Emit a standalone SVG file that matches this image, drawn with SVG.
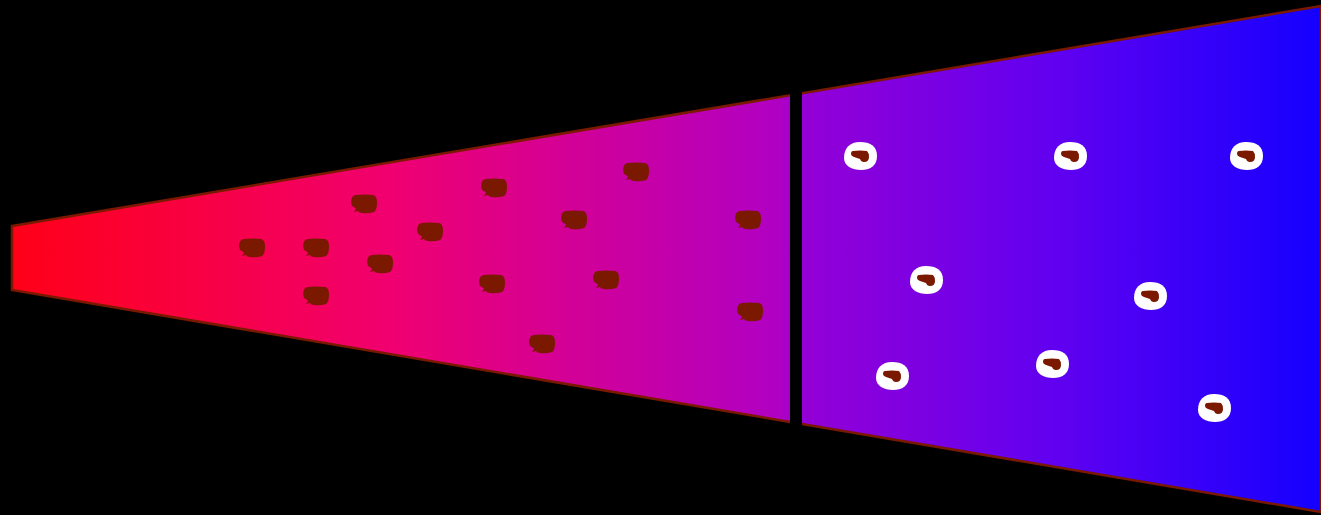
<svg xmlns="http://www.w3.org/2000/svg" width="1321" height="515" viewBox="0 0 1321 515">
<defs>
<linearGradient id="g" gradientUnits="userSpaceOnUse" x1="12" y1="0" x2="1321" y2="0">
<stop offset="0" stop-color="#ff0018"/>
<stop offset="0.29" stop-color="#f00070"/>
<stop offset="0.587" stop-color="#b000c4"/>
<stop offset="0.604" stop-color="#9400d6"/>
<stop offset="0.8" stop-color="#6000f0"/>
<stop offset="1" stop-color="#1400ff"/>
</linearGradient>
<path id="blob" d="M -8,-9 Q 0,-10 9,-9 Q 13,-8 13,-2 Q 13,6 10,8 Q 4,10 -2,9 Q -5,9 -6,7 L -10,8 Q -8,6 -8,4 Q -13,3 -13,-3 Q -12,-9 -8,-9 Z"/>
<path id="ring" d="M 0,-14 C 10,-14 17,-10 17,0 C 17,10 10,14 1,14 C -8,14 -16,10 -16,2 C -16,-8 -10,-14 0,-14 Z"/>
<path id="inner" d="M -7,-5 Q 0,-6 7,-5 Q 9,-3 9,1 Q 9,6 4,6 Q 1,6 0,3 L -6,1 Q -9,0 -9,-2 Q -9,-5 -7,-5 Z"/>
</defs>
<style>
.b{fill:#7a1800}
.w{fill:#ffffff}
</style>
<rect x="0" y="0" width="1321" height="515" fill="#000000"/>
<g id="cone">
<polygon points="12,226 1321,6 1321,512 12,290" fill="url(#g)" stroke="#7a1800" stroke-width="2.5"/>
<rect x="790" y="0" width="12" height="515" fill="#000000"/>
</g>
<g id="particles-left">
<use href="#blob" class="b" x="252" y="248"/>
<use href="#blob" class="b" x="316" y="248"/>
<use href="#blob" class="b" x="316" y="296"/>
<use href="#blob" class="b" x="364" y="204"/>
<use href="#blob" class="b" x="380" y="264"/>
<use href="#blob" class="b" x="430" y="232"/>
<use href="#blob" class="b" x="494" y="188"/>
<use href="#blob" class="b" x="492" y="284"/>
<use href="#blob" class="b" x="574" y="220"/>
<use href="#blob" class="b" x="636" y="172"/>
<use href="#blob" class="b" x="606" y="280"/>
<use href="#blob" class="b" x="542" y="344"/>
<use href="#blob" class="b" x="748" y="220"/>
<use href="#blob" class="b" x="750" y="312"/>
</g>
<g id="particles-right">
<g transform="translate(860,156)"><use href="#ring" class="w"/><use href="#inner" class="b"/></g>
<g transform="translate(1070,156)"><use href="#ring" class="w"/><use href="#inner" class="b"/></g>
<g transform="translate(1246,156)"><use href="#ring" class="w"/><use href="#inner" class="b"/></g>
<g transform="translate(926,280)"><use href="#ring" class="w"/><use href="#inner" class="b"/></g>
<g transform="translate(1150,296)"><use href="#ring" class="w"/><use href="#inner" class="b"/></g>
<g transform="translate(892,376)"><use href="#ring" class="w"/><use href="#inner" class="b"/></g>
<g transform="translate(1052,364)"><use href="#ring" class="w"/><use href="#inner" class="b"/></g>
<g transform="translate(1214,408)"><use href="#ring" class="w"/><use href="#inner" class="b"/></g>
</g>
</svg>
